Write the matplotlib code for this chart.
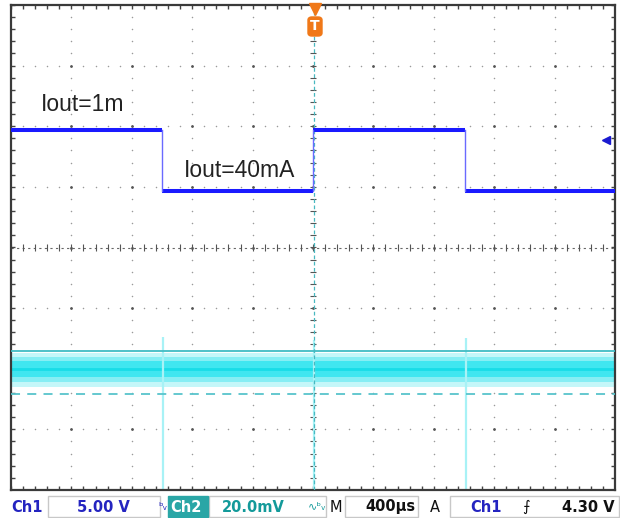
import numpy as np
import matplotlib
matplotlib.use("Agg")
import matplotlib.pyplot as plt
from matplotlib.patches import FancyBboxPatch, Rectangle

W, H = 620, 518

# screen is 10 x 8 divisions, values below are in divisions
ch1_edges = [-5.0, -2.50, 0.0, 2.52, 5.0]
ch1_levels = [1.94, 0.93, 1.94, 0.93]

ch2_mid = -2.0
ch2_outer = [-2.30, -1.74]
ch2_mid_band = [-2.22, -1.80]
ch2_inner = [-2.14, -1.88]
spike_t = [-2.48, 0.02, 2.54]
spike_top = [-1.48, -1.52, -1.50]
spike_bot = [-4.0, -4.0, -4.0]
cursor_solid = -1.71
cursor_dash = -2.42
trig_level = 1.77

labels = ["Iout=1m", "Iout=40mA"]
label_x = [-4.50, -2.14]
label_y = [2.25, 1.16]


def px(x):
    return x / W


def py(y):
    return 1 - y / H


fig = plt.figure(figsize=(W / 100, H / 100), dpi=100)
ax = fig.add_axes([11 / W, (H - 490) / H, 604 / W, 485 / H])
ax.set_xlim(-5, 5)
ax.set_ylim(-4, 4)
ax.set_xticks([])
ax.set_yticks([])
for s in ax.spines.values():
    s.set_color("#3a3a3a")
    s.set_linewidth(1.6)

# graticule
minor = np.arange(-5, 5.01, 0.2)
minor_y = np.arange(-4, 4.01, 0.2)
for gy in range(-3, 4):
    if gy == 0:
        continue
    ax.scatter(minor, np.full_like(minor, gy), s=1.2, c="#9a9a9a", lw=0, zorder=1)
for gx in range(-4, 5):
    if gx == 0:
        continue
    ax.scatter(np.full_like(minor_y, gx), minor_y, s=1.2, c="#9a9a9a", lw=0, zorder=1)
mx, my = np.meshgrid(np.arange(-4, 5), np.arange(-3, 4))
ax.scatter(mx.ravel(), my.ravel(), s=4, c="#555555", lw=0, zorder=1)

# centre lines with ticks
ax.plot([-5, 5], [0, 0], color="#666666", lw=0.8, ls=(0, (2, 3)), zorder=1)
ax.vlines(minor, -0.05, 0.05, color="#555555", lw=0.8, zorder=1)
ax.hlines(minor_y, -0.05, 0.05, color="#555555", lw=0.8, zorder=1)

# border ticks
ax.vlines(minor, 4 - 0.07, 4, color="#444444", lw=1.0)
ax.vlines(minor, -4, -4 + 0.07, color="#444444", lw=1.0)
ax.hlines(minor_y, -5, -5 + 0.07, color="#444444", lw=1.0)
ax.hlines(minor_y, 5 - 0.07, 5, color="#444444", lw=1.0)

# ch2 (cyan)
ax.fill_between([-5, 5], ch2_outer[0], ch2_outer[1], color="#c4f7f9", lw=0, zorder=2)
ax.fill_between([-5, 5], ch2_mid_band[0], ch2_mid_band[1], color="#86eef4", lw=0, zorder=2)
ax.fill_between([-5, 5], ch2_inner[0], ch2_inner[1], color="#40e6f0", lw=0, zorder=2)
ax.plot([-5, 5], [ch2_mid, ch2_mid], color="#18dde8", lw=2, zorder=2)
ax.vlines(spike_t, spike_bot, spike_top, color="#a8f2f6", lw=1.6, zorder=2)
ax.plot([-5, 5], [cursor_solid, cursor_solid], color="#40bcc4", lw=1.3, zorder=3)
ax.plot([-5, 5], [cursor_dash, cursor_dash], color="#58c4cc", lw=1.3,
        ls=(0, (5, 4)), zorder=3)
ax.plot([0.02, 0.02], [-4, 4], color="#48b8c0", lw=0.9, ls=(0, (3, 2)), zorder=3)

# ch1 (blue)
for i, lv in enumerate(ch1_levels):
    ax.plot([ch1_edges[i], ch1_edges[i + 1]], [lv, lv], color="#1a1aff",
            lw=2.9, solid_capstyle="butt", zorder=4)
for i in range(1, len(ch1_edges) - 1):
    ax.plot([ch1_edges[i], ch1_edges[i]], [ch1_levels[i - 1], ch1_levels[i]],
            color="#6a6aff", lw=1.0, zorder=4)
ax.plot([4.85], [trig_level], marker="<", ms=6, color="#1a1ad0", zorder=5,
        clip_on=False)

for t, x, y in zip(labels, label_x, label_y):
    ax.text(x, y, t, fontsize=16.5, family="Liberation Sans", color="#222222",
            va="baseline", ha="left", zorder=6)

# trigger marker
ax.plot([0.03], [3.93], marker="v", ms=8, color="#f07818", clip_on=False, zorder=6)
box = FancyBboxPatch((px(308), py(36)), 14 / W, 19 / H,
                     boxstyle="round,pad=0,rounding_size=0.006",
                     transform=fig.transFigure, color="#f07818", zorder=6)
fig.patches.append(box)
fig.text(px(315), py(26.5), "T", color="white", fontsize=10, weight="bold",
         ha="center", va="center", zorder=7)

# status bar
blue = "#2424c0"
teal = "#139a9a"
for x0, x1 in [(48, 160), (209, 326), (345, 418), (450, 619)]:
    fig.patches.append(Rectangle((px(x0), py(517)), (x1 - x0) / W, 21 / H,
                                 transform=fig.transFigure, fill=False,
                                 ec="#c8c8c8", lw=1))
fig.patches.append(Rectangle((px(168), py(517)), 40 / W, 21 / H,
                             transform=fig.transFigure, color="#2aa6a6"))
ty = py(507)
fs = 10.5
fig.text(px(11), ty, "Ch1", color=blue, fontsize=fs, weight="bold", va="center")
fig.text(px(130), ty, "5.00 V", color=blue, fontsize=fs, weight="bold",
         va="center", ha="right")
fig.text(px(158), ty, "ᵇᵥ", color=blue, fontsize=8, va="center")
fig.text(px(170), ty, "Ch2", color="white", fontsize=fs, weight="bold", va="center")
fig.text(px(222), ty, "20.0mV", color=teal, fontsize=fs, weight="bold", va="center")
fig.text(px(308), ty, "∿ᵇᵥ", color=teal, fontsize=8, va="center")
fig.text(px(330), ty, "M", color="#111111", fontsize=fs, va="center")
fig.text(px(415), ty, "400µs", color="#111111", fontsize=fs, weight="bold",
         va="center", ha="right")
fig.text(px(430), ty, "A", color="#111111", fontsize=fs, va="center")
fig.text(px(470), ty, "Ch1", color=blue, fontsize=fs, weight="bold", va="center")
fig.text(px(522), ty, "⨍", color="#111111", fontsize=fs, va="center")
fig.text(px(615), ty, "4.30 V", color="#111111", fontsize=fs, weight="bold",
         va="center", ha="right")

fig.savefig("out.png", dpi=100)
